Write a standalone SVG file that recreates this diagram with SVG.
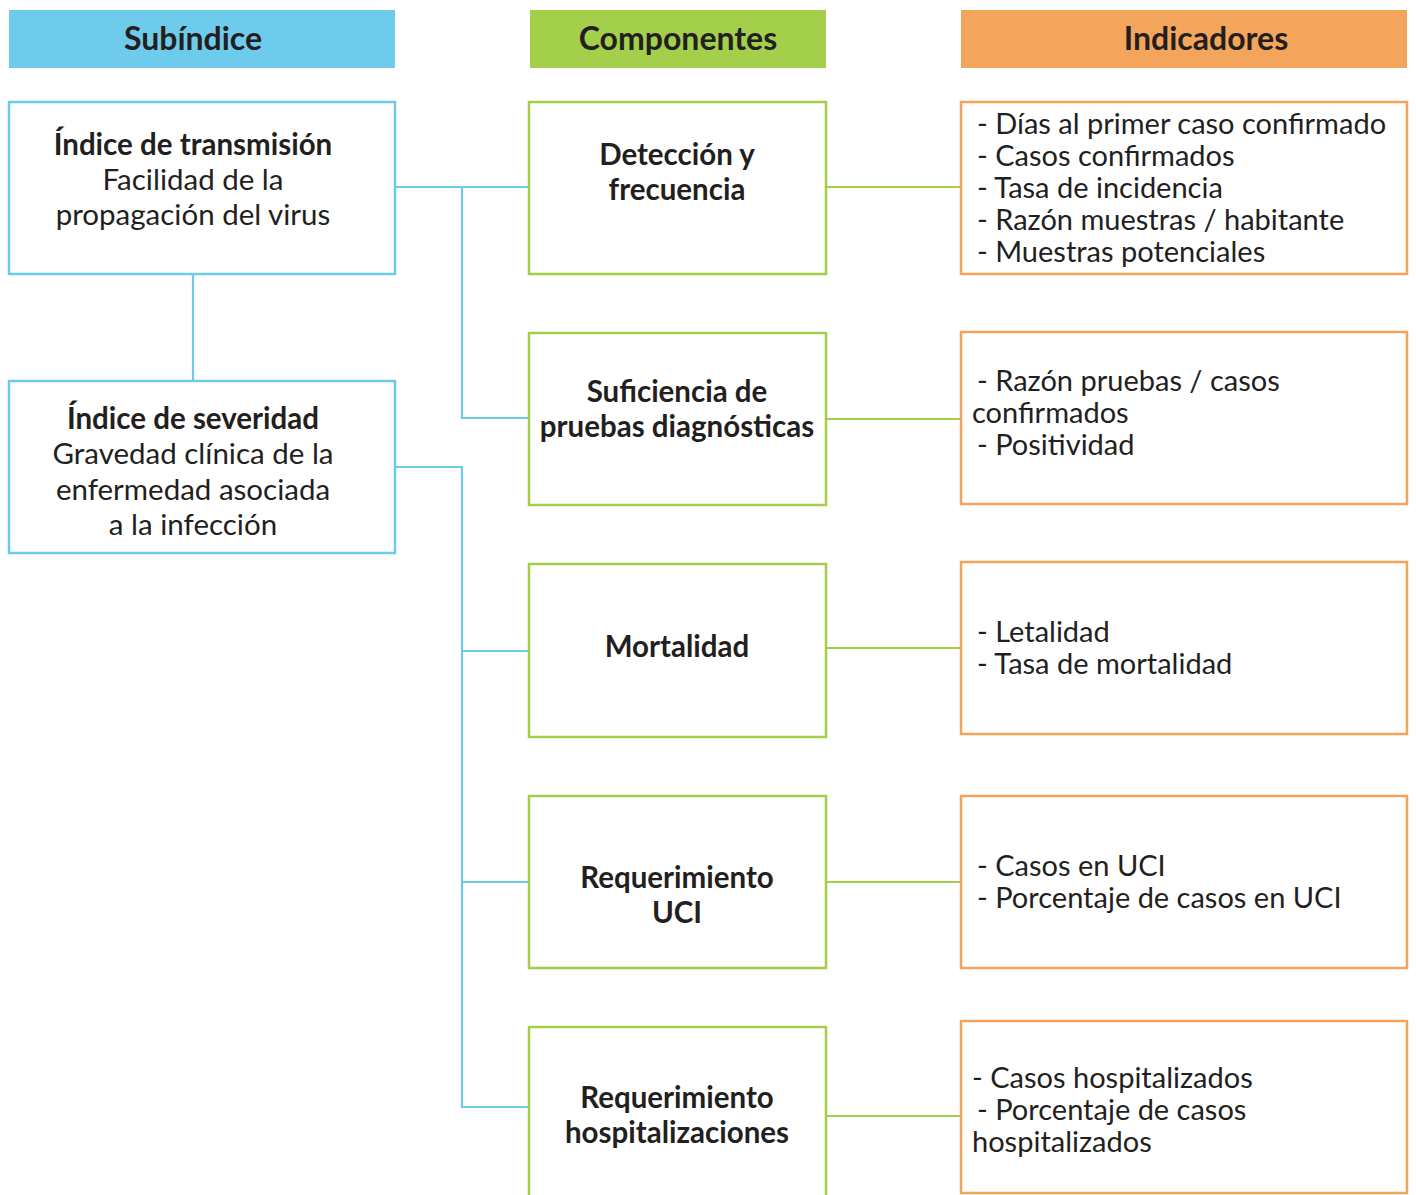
<svg xmlns="http://www.w3.org/2000/svg" width="1416" height="1195" viewBox="0 0 1416 1195">
<style>
text{font-family:Lato,"Noto Sans","Liberation Sans",sans-serif;fill:#231F20;font-size:29.5px}
.h{font-weight:bold;font-size:32px;text-anchor:middle}
.b{font-weight:bold}
.c{text-anchor:middle}
.i{font-size:29px}
.bl{fill:#fff;stroke:#6DCAEB;stroke-width:2.5}
.gr{fill:#fff;stroke:#A5CE48;stroke-width:2.5}
.or{fill:#fff;stroke:#F5A25A;stroke-width:2.5}
.lb{fill:none;stroke:#6DCAEB;stroke-width:2.2}
.lg{fill:none;stroke:#A5CE48;stroke-width:2.2}
</style>
<rect width="1416" height="1195" fill="#fff"/>
<g id="headers">
<g id="h-subindice"><rect x="9" y="10" width="386" height="58" fill="#6FCBEB"/><text class="h" x="193" y="50">Subíndice</text></g>
<g id="h-componentes"><rect x="530" y="10" width="296" height="58" fill="#A4CF4B"/><text class="h" x="678" y="50">Componentes</text></g>
<g id="h-indicadores"><rect x="961" y="10" width="446" height="58" fill="#F4A55C"/><text class="h" x="1206" y="50">Indicadores</text></g>
</g>
<g id="connectors">
<path class="lb" d="M193 274V381"/>
<path class="lb" d="M395 187H529M462 187V418H529"/>
<path class="lb" d="M395 467H462V1107H529M462 651H529M462 882H529"/>
<path class="lg" d="M826 187H961M826 419H961M826 648H961M826 882H961M826 1116H961"/>
</g>
<g id="transmision"><rect class="bl" x="9" y="102" width="386" height="172"/>
<text class="c" x="193" y="155"><tspan class="b">Índice de transmisión</tspan><tspan x="193" y="190">Facilidad de la</tspan><tspan x="193" y="225">propagación del virus</tspan></text></g>
<g id="severidad"><rect class="bl" x="9" y="381" width="386" height="172"/>
<text class="c" x="193" y="429"><tspan class="b">Índice de severidad</tspan><tspan x="193" y="464">Gravedad clínica de la</tspan><tspan x="193" y="500">enfermedad asociada</tspan><tspan x="193" y="535">a la infección</tspan></text></g>
<g id="deteccion"><rect class="gr" x="529" y="102" width="297" height="172"/>
<text class="c b" x="677" y="165">Detección y<tspan x="677" y="200">frecuencia</tspan></text></g>
<g id="suficiencia"><rect class="gr" x="529" y="333" width="297" height="172"/>
<text class="c b" x="677" y="402">Suficiencia de<tspan x="677" y="437">pruebas diagnósticas</tspan></text></g>
<g id="mortalidad"><rect class="gr" x="529" y="564" width="297" height="173"/>
<text class="c b" x="677" y="657">Mortalidad</text></g>
<g id="uci"><rect class="gr" x="529" y="796" width="297" height="172"/>
<text class="c b" x="677" y="888">Requerimiento<tspan x="677" y="923">UCI</tspan></text></g>
<g id="hospitalizaciones"><rect class="gr" x="529" y="1027" width="297" height="200"/>
<text class="c b" x="677" y="1108">Requerimiento<tspan x="677" y="1143">hospitalizaciones</tspan></text></g>
<g id="ind-deteccion"><rect class="or" x="961" y="102" width="446" height="172"/>
<text class="i" x="977" y="134">- Días al primer caso confirmado<tspan x="977" y="166">- Casos confirmados</tspan><tspan x="977" y="198">- Tasa de incidencia</tspan><tspan x="977" y="230">- Razón muestras / habitante</tspan><tspan x="977" y="262">- Muestras potenciales</tspan></text></g>
<g id="ind-suficiencia"><rect class="or" x="961" y="332" width="446" height="172"/>
<text class="i" x="977" y="391">- Razón pruebas / casos<tspan x="972" y="423">confirmados</tspan><tspan x="977" y="455">- Positividad</tspan></text></g>
<g id="ind-mortalidad"><rect class="or" x="961" y="562" width="446" height="172"/>
<text class="i" x="977" y="642">- Letalidad<tspan x="977" y="674">- Tasa de mortalidad</tspan></text></g>
<g id="ind-uci"><rect class="or" x="961" y="796" width="446" height="172"/>
<text class="i" x="977" y="876">- Casos en UCI<tspan x="977" y="908">- Porcentaje de casos en UCI</tspan></text></g>
<g id="ind-hospitalizaciones"><rect class="or" x="961" y="1021" width="446" height="172"/>
<text class="i" x="972" y="1088">- Casos hospitalizados<tspan x="977" y="1120">- Porcentaje de casos</tspan><tspan x="972" y="1152">hospitalizados</tspan></text></g>
</svg>
